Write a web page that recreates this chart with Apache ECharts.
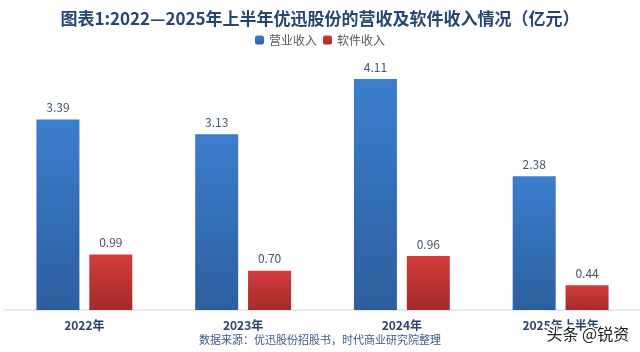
<!DOCTYPE html>
<html lang="zh">
  <head>
    <meta charset="UTF-8" />
    <title>优迅股份营收及软件收入</title>
    <script src="https://cdn.jsdelivr.net/npm/echarts@6.0.0/dist/echarts.min.js"></script>
    <style>
      * {
        padding: 0;
        margin: 0;
      }
      #main {
        width: 640px;
        height: 352px;
        background: #ffffff;
      }
    </style>
  </head>
  <body>
    <div id="main"></div>
    <script>
      var years = ["2022年", "2023年", "2024年", "2025年上半年"];
      var revenue = [3.39, 3.13, 4.11, 2.38];
      var software = [0.99, 0.7, 0.96, 0.44];

      var font = "'Noto Sans CJK SC', 'Noto Sans', sans-serif";
      var myChart = echarts.init(document.getElementById("main"));

      function grad(top, bottom) {
        return new echarts.graphic.LinearGradient(0, 0, 0, 1, [
          { offset: 0, color: top },
          { offset: 1, color: bottom },
        ]);
      }

      var option = {
        backgroundColor: "#ffffff",
        animation: false,
        title: {
          text: "图表1:2022—2025年上半年优迅股份的营收及软件收入情况（亿元）",
          left: "center",
          top: 5,
          textStyle: {
            fontFamily: font,
            fontSize: 17,
            fontWeight: "bold",
            color: "#27466f",
          },
        },
        legend: {
          top: 29,
          left: "center",
          itemWidth: 9,
          itemHeight: 9,
          itemGap: 6,
          textStyle: {
            fontFamily: font,
            fontSize: 12,
            color: "#595959",
          },
          data: ["营业收入", "软件收入"],
        },
        grid: {
          left: 5,
          right: 0,
          top: 60,
          bottom: 42,
          containLabel: false,
        },
        xAxis: {
          type: "category",
          data: years,
          axisLine: { lineStyle: { color: "#e8e8e8", width: 2 } },
          axisTick: { show: false },
          axisLabel: {
            fontFamily: font,
            fontSize: 12,
            fontWeight: "bold",
            color: "#2c4368",
            margin: 9,
          },
        },
        yAxis: {
          type: "value",
          min: 0,
          max: 4.45,
          show: false,
          splitLine: { show: false },
        },
        series: [
          {
            name: "营业收入",
            type: "bar",
            data: revenue,
            barWidth: 43,
            barGap: "23%",
            itemStyle: {
              color: grad("#3b7dcd", "#2d5f9e"),
            },
            label: {
              show: true,
              position: "top",
              distance: 6,
              fontFamily: font,
              fontSize: 12,
              color: "#44546a",
              formatter: function (p) {
                return p.value.toFixed(2);
              },
            },
          },
          {
            name: "软件收入",
            type: "bar",
            data: software,
            barWidth: 43,
            itemStyle: {
              color: grad("#d53b3b", "#a52a2a"),
            },
            label: {
              show: true,
              position: "top",
              distance: 6,
              fontFamily: font,
              fontSize: 12,
              color: "#44546a",
              formatter: function (p) {
                return p.value.toFixed(2);
              },
            },
          },
        ],
        graphic: [
          {
            type: "text",
            left: "center",
            top: 334,
            style: {
              text: "数据来源：优迅股份招股书，时代商业研究院整理",
              fontFamily: font,
              fontSize: 11,
              fill: "#3d5a85",
            },
          },
          {
            type: "text",
            left: 545,
            top: 324,
            z: 100,
            style: {
              text: "头条 @锐资",
              fontFamily: font,
              fontSize: 16,
              fill: "#222222",
              stroke: "#ffffff",
              lineWidth: 3,
            },
          },
        ],
      };
      myChart.setOption(option);
    </script>
  </body>
</html>
